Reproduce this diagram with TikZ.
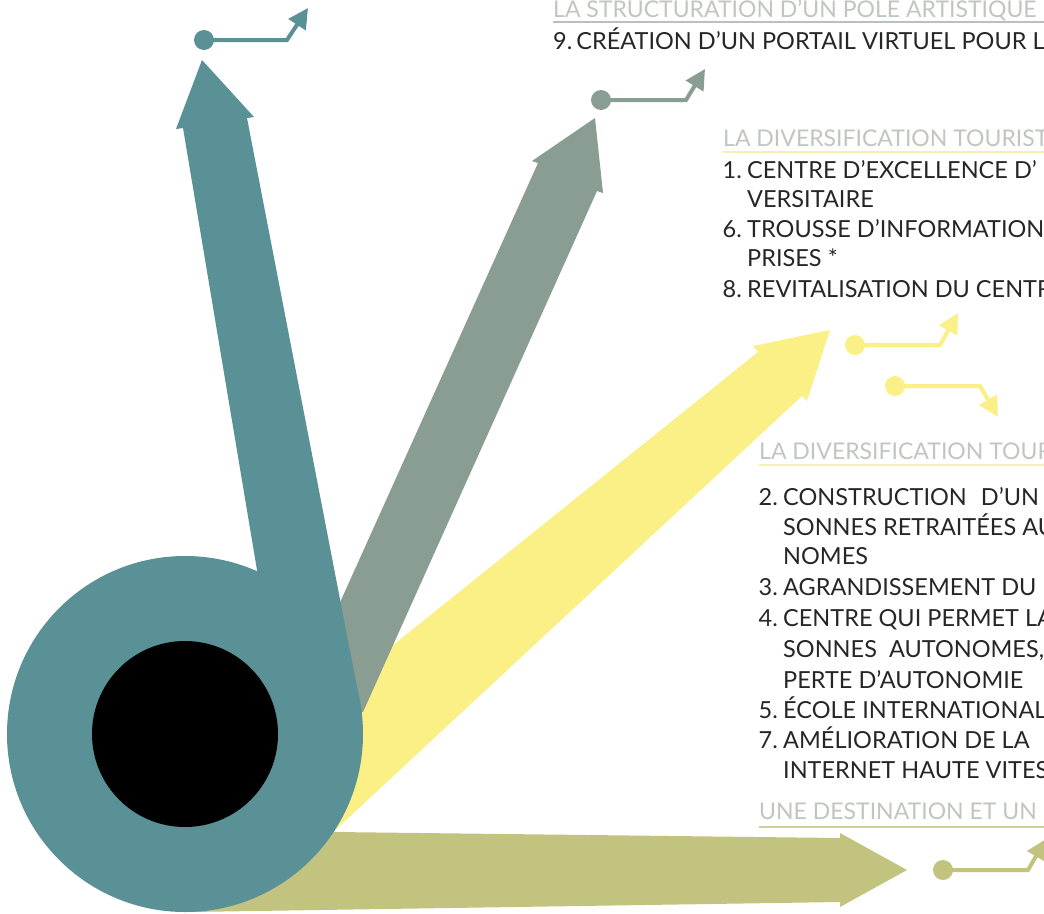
\documentclass[tikz,border=0pt]{standalone}
\usepackage{fontspec}
\setmainfont{Lato}
\usetikzlibrary{arrows.meta}
\definecolor{teal1}{HTML}{5A9196}
\definecolor{sage}{HTML}{8A9D92}
\definecolor{yel}{HTML}{FAF085}
\definecolor{olive1}{HTML}{C3C380}
\definecolor{hdrc}{HTML}{BFC6BF}
\definecolor{txtc}{HTML}{262626}
\definecolor{ulgray}{HTML}{B9C1B9}
\definecolor{ulyel}{HTML}{F3EFB5}
\definecolor{ulolive}{HTML}{CFCE9C}
\begin{document}
\begin{tikzpicture}[x=1pt,y=-1pt,
  dot/.style={circle,fill=#1,inner sep=0pt,minimum size=20pt},
  lnk/.style={draw=#1,line width=4pt,-{Triangle[length=20pt,width=20pt,fill=#1]}},
  hdr/.style={anchor=base west,inner sep=0pt,text=hdrc,font=\fontsize{23}{23}\selectfont},
  itm/.style={anchor=base west,inner sep=0pt,text=txtc,font=\fontsize{23.5}{23.5}\selectfont},
  num/.style={itm,anchor=base east},
  uline/.style={draw=#1,line width=1.5pt}]
\useasboundingbox (0,0) rectangle (1044,913);
\clip (0,0) rectangle (1044,913);

% big arrows
\fill[yel] (758,352) -- (753,346) -- (830,330) -- (807,401) -- (802,396) -- (330,835) -- (250,760) -- cycle;
\fill[olive1] (185,870) -- (335,832) -- (840,838) -- (840,833) -- (907,870) -- (840,907) -- (840,902) -- (190,912) -- cycle;
\fill[sage] (538,163) -- (532,161) -- (595,118) -- (603,193) -- (597,191) -- (363,712) -- (296,700) -- cycle;
\fill[teal1] (262,600) -- (183,128) -- (176,129) -- (202,60) -- (254,117) -- (247,118) -- (362,713) -- (300,713) -- cycle;
\node[circle,fill=teal1,minimum size=356pt,inner sep=0pt] (ring) at (185,734) {};
\node[circle,fill=black,minimum size=186pt,inner sep=0pt] (hub) at (185,734) {};

% small connectors
\node[dot=teal1] (d1) at (204,40) {};
\coordinate (c1) at (287,40); \coordinate (t1) at (308,8);
\draw[lnk=teal1] (d1.center) -- (c1) -- (t1);
\node[dot=sage] (d2) at (601,100) {};
\coordinate (c2) at (686,100); \coordinate (t2) at (705,69);
\draw[lnk=sage] (d2.center) -- (c2) -- (t2);
\node[dot=yel] (d3) at (855,345) {};
\coordinate (c3) at (940,345); \coordinate (t3) at (958,313);
\draw[lnk=yel] (d3.center) -- (c3) -- (t3);
\node[dot=yel] (d4) at (895,386) {};
\coordinate (c4) at (980,386); \coordinate (t4) at (998,417);
\draw[lnk=yel] (d4.center) -- (c4) -- (t4);
\node[dot=olive1] (d5) at (943,870) {};
\coordinate (c5) at (1028,870); \coordinate (t5) at (1046,839);
\draw[lnk=olive1] (d5.center) -- (c5) -- (t5);

% section 1
\node[hdr] (h1) at (553,17) {LA STRUCTURATION D’UN PÔLE ARTISTIQUE};
\draw[uline=ulgray] (553,22) -- (1044,22);
\node[itm] (i9) at (553,49) {9.\hspace{4pt}CRÉATION D’UN PORTAIL VIRTUEL POUR L};

% section 2
\node[hdr] (h2) at (723,146) {LA DIVERSIFICATION TOURIST};
\draw[uline=ulyel] (723,152) -- (1044,152);
\node[num] (n1) at (742,178) {1.};
\node[itm] (i1a) at (747,178) {CENTRE D’EXCELLENCE D’};
\node[itm] (i1b) at (747,207) {VERSITAIRE};
\node[num] (n6) at (742,237) {6.};
\node[itm] (i6a) at (747,237) {TROUSSE D’INFORMATION};
\node[itm] (i6b) at (747,266) {PRISES *};
\node[num] (n8) at (742,297) {8.};
\node[itm] (i8) at (747,297) {REVITALISATION DU CENTR};

% section 3
\node[hdr] (h3) at (759,459) {LA DIVERSIFICATION TOUR};
\draw[uline=ulyel] (759,465) -- (1044,465);
\node[num] (n2) at (778,505) {2.};
\node[itm] (i2a) at (783,505) {CONSTRUCTION\hspace{8pt} D’UN};
\node[itm] (i2b) at (783,535) {SONNES RETRAITÉES AU};
\node[itm] (i2c) at (783,564) {NOMES};
\node[num] (n3) at (778,595) {3.};
\node[itm] (i3) at (783,595) {AGRANDISSEMENT DU};
\node[num] (n4) at (778,626) {4.};
\node[itm] (i4a) at (783,626) {CENTRE QUI PERMET LA};
\node[itm] (i4b) at (783,657) {SONNES\hspace{6pt} AUTONOMES,};
\node[itm] (i4c) at (783,688) {PERTE D’AUTONOMIE};
\node[num] (n5) at (778,718) {5.};
\node[itm] (i5) at (783,718) {ÉCOLE INTERNATIONAL};
\node[num] (n7) at (778,748) {7.};
\node[itm] (i7a) at (783,748) {AMÉLIORATION DE LA};
\node[itm] (i7b) at (783,778) {INTERNET HAUTE VITES};

% section 4
\node[hdr] (h4) at (759,819) {UNE DESTINATION ET UN};
\draw[uline=ulolive] (759,827) -- (1044,827);
\end{tikzpicture}
\end{document}
